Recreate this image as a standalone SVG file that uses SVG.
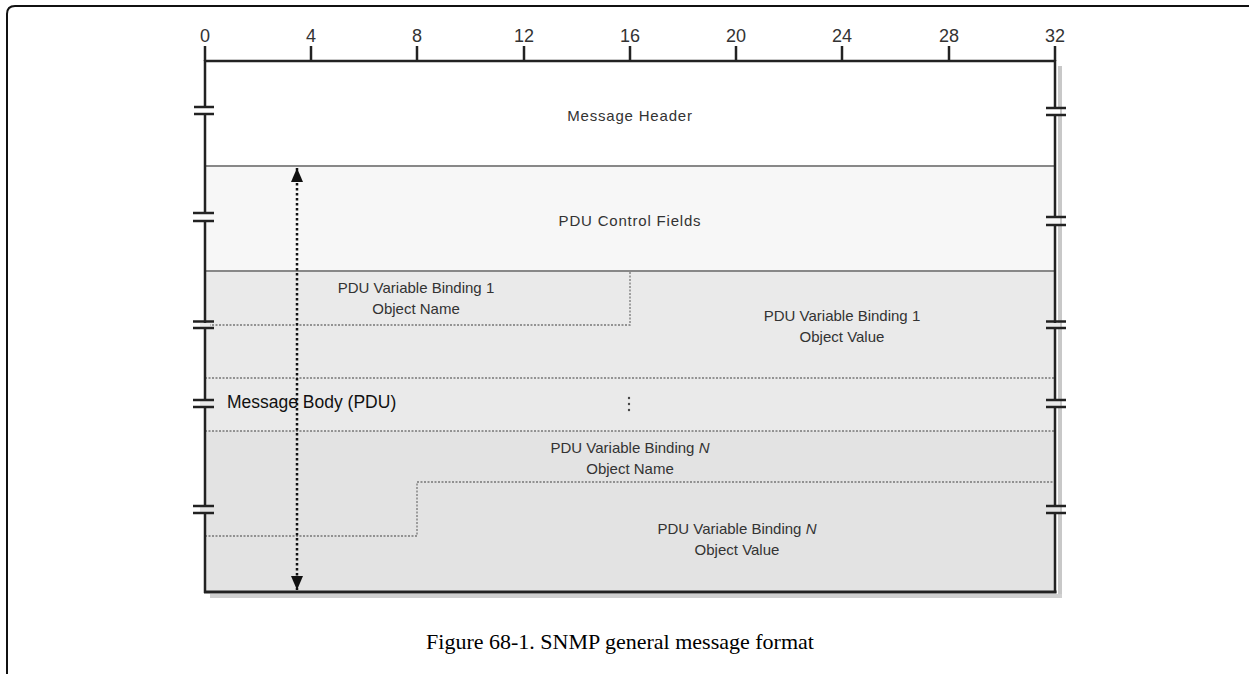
<svg xmlns="http://www.w3.org/2000/svg" width="1249" height="674" viewBox="0 0 1249 674">
<defs>
<style>
.ruler{font-family:"Liberation Sans",Arial,sans-serif;font-size:18px;fill:#333;text-anchor:middle}
.lbl{font-family:"Liberation Sans",Arial,sans-serif;font-size:15px;fill:#333;text-anchor:middle}
.wide{letter-spacing:0.8px}
.body{font-family:"Liberation Sans",Arial,sans-serif;font-size:17.5px;fill:#111;font-weight:500}
.cap{font-family:"Liberation Serif","Times New Roman",serif;font-size:22px;fill:#000;text-anchor:middle}
.frame{stroke:#222;stroke-width:2.5;fill:none}
.sep{stroke:#888;stroke-width:2;fill:none}
.dot{stroke:#777;stroke-width:1.3;stroke-dasharray:2 1.5;fill:none}
.brk{stroke:#222;stroke-width:2.5}
.gap{fill:#fff}
</style>
<marker id="ah" viewBox="0 0 14 12" refX="14" refY="6" markerWidth="14" markerHeight="12" markerUnits="userSpaceOnUse" orient="auto-start-reverse">
<path d="M0,0 L14,6 L0,12 Z" fill="#111"/>
</marker>
</defs>
<rect width="1249" height="674" fill="#fff"/>
<!-- page border -->
<path d="M7,674 L7,14 Q7,6 15,6 L1249,6" fill="none" stroke="#111" stroke-width="2"/>

<!-- shadow -->
<rect x="1058" y="66" width="4" height="531" fill="#c8c8c8"/>
<rect x="210" y="594" width="852" height="4" fill="#d0d0d0"/>

<!-- fills -->
<g id="header"><rect x="205" y="61" width="850" height="105" fill="#fff"/>
<text class="lbl wide" x="630" y="121">Message Header</text></g>
<g id="control"><rect x="205" y="166" width="850" height="105" fill="#f7f7f7"/>
<text class="lbl wide" x="630" y="226">PDU Control Fields</text></g>
<g id="pdu-body">
<rect x="205" y="271" width="850" height="160" fill="#eaeaea"/>
<rect x="205" y="431" width="850" height="161" fill="#e3e3e3"/>
</g>

<g id="vb1-name">
<path class="dot" d="M205,325 L630,325 L630,271"/>
<text class="lbl" x="416" y="293">PDU Variable Binding 1</text>
<text class="lbl" x="416" y="314">Object Name</text>
</g>
<g id="vb1-value">
<text class="lbl" x="842" y="321">PDU Variable Binding 1</text>
<text class="lbl" x="842" y="342">Object Value</text>
</g>
<g id="ellipsis">
<path class="dot" d="M205,378 L1055,378"/>
<circle cx="629" cy="398" r="1.2" fill="#444"/>
<circle cx="629" cy="404" r="1.2" fill="#444"/>
<circle cx="629" cy="410" r="1.2" fill="#444"/>
</g>
<g id="vbn-name">
<path class="dot" d="M205,431 L1055,431"/>
<path class="dot" d="M205,536 L417,536 L417,482 L1055,482"/>
<text class="lbl" x="630" y="453">PDU Variable Binding <tspan font-style="italic">N</tspan></text>
<text class="lbl" x="630" y="474">Object Name</text>
</g>
<g id="vbn-value">
<text class="lbl" x="737" y="534">PDU Variable Binding <tspan font-style="italic">N</tspan></text>
<text class="lbl" x="737" y="555">Object Value</text>
</g>

<!-- separators -->
<line class="sep" x1="205" y1="166" x2="1055" y2="166"/>
<line class="sep" x1="205" y1="271" x2="1055" y2="271"/>

<!-- ruler -->
<g id="ruler">
<line x1="205" y1="61" x2="1055" y2="61" stroke="#222" stroke-width="2.5"/>
<g stroke="#222" stroke-width="2.5">
<line x1="205" y1="46" x2="205" y2="61"/>
<line x1="311" y1="46" x2="311" y2="61"/>
<line x1="417" y1="46" x2="417" y2="61"/>
<line x1="524" y1="46" x2="524" y2="61"/>
<line x1="630" y1="46" x2="630" y2="61"/>
<line x1="736" y1="46" x2="736" y2="61"/>
<line x1="842" y1="46" x2="842" y2="61"/>
<line x1="949" y1="46" x2="949" y2="61"/>
<line x1="1055" y1="46" x2="1055" y2="61"/>
</g>
<text class="ruler" x="205" y="42">0</text>
<text class="ruler" x="311" y="42">4</text>
<text class="ruler" x="417" y="42">8</text>
<text class="ruler" x="524" y="42">12</text>
<text class="ruler" x="630" y="42">16</text>
<text class="ruler" x="736" y="42">20</text>
<text class="ruler" x="842" y="42">24</text>
<text class="ruler" x="949" y="42">28</text>
<text class="ruler" x="1055" y="42">32</text>
</g>

<!-- frame -->
<line class="frame" x1="205" y1="60" x2="205" y2="593"/>
<line class="frame" x1="1055" y1="60" x2="1055" y2="593"/>
<line x1="204" y1="592" x2="1056.5" y2="592" stroke="#222" stroke-width="3"/>

<!-- break marks -->
<g id="breaks">
<rect class="gap" x="200" y="108" width="10" height="5"/>
<line class="brk" x1="194" y1="107" x2="214" y2="107"/><line class="brk" x1="194" y1="114" x2="214" y2="114"/>
<rect class="gap" x="1050" y="109" width="10" height="5"/>
<line class="brk" x1="1046" y1="108" x2="1066" y2="108"/><line class="brk" x1="1046" y1="115" x2="1066" y2="115"/>

<rect x="200" y="214" width="10" height="6" fill="#f7f7f7"/>
<line class="brk" x1="193" y1="213" x2="214" y2="213"/><line class="brk" x1="193" y1="221" x2="214" y2="221"/>
<rect x="1050" y="218" width="10" height="6" fill="#f7f7f7"/>
<line class="brk" x1="1046" y1="217" x2="1066" y2="217"/><line class="brk" x1="1046" y1="225" x2="1066" y2="225"/>

<rect x="200" y="323" width="10" height="4" fill="#eaeaea"/>
<line class="brk" x1="193" y1="321.5" x2="214" y2="321.5"/><line class="brk" x1="193" y1="328" x2="214" y2="328"/>
<rect x="1050" y="323" width="10" height="4" fill="#eaeaea"/>
<line class="brk" x1="1046" y1="321.5" x2="1066" y2="321.5"/><line class="brk" x1="1046" y1="328" x2="1066" y2="328"/>

<rect x="200" y="401" width="10" height="5" fill="#eaeaea"/>
<line class="brk" x1="193" y1="400" x2="214" y2="400"/><line class="brk" x1="193" y1="407" x2="214" y2="407"/>
<rect x="1050" y="401" width="10" height="5" fill="#eaeaea"/>
<line class="brk" x1="1046" y1="400" x2="1066" y2="400"/><line class="brk" x1="1046" y1="407" x2="1066" y2="407"/>

<rect x="200" y="507" width="10" height="5" fill="#e3e3e3"/>
<line class="brk" x1="193" y1="506" x2="214" y2="506"/><line class="brk" x1="193" y1="513" x2="214" y2="513"/>
<rect x="1050" y="507" width="10" height="5" fill="#e3e3e3"/>
<line class="brk" x1="1046" y1="506" x2="1066" y2="506"/><line class="brk" x1="1046" y1="513" x2="1066" y2="513"/>
</g>

<!-- connector: message body extent -->
<g id="connectors">
<line x1="297" y1="168" x2="297" y2="590" stroke="#111" stroke-width="2.5" stroke-dasharray="2.5 2.5" marker-start="url(#ah)" marker-end="url(#ah)"/>
</g>

<g id="body-label">
<text class="body" x="227" y="408">Message Body (PDU)</text>
</g>

<text class="cap" x="620" y="649">Figure 68-1. SNMP general message format</text>
</svg>
